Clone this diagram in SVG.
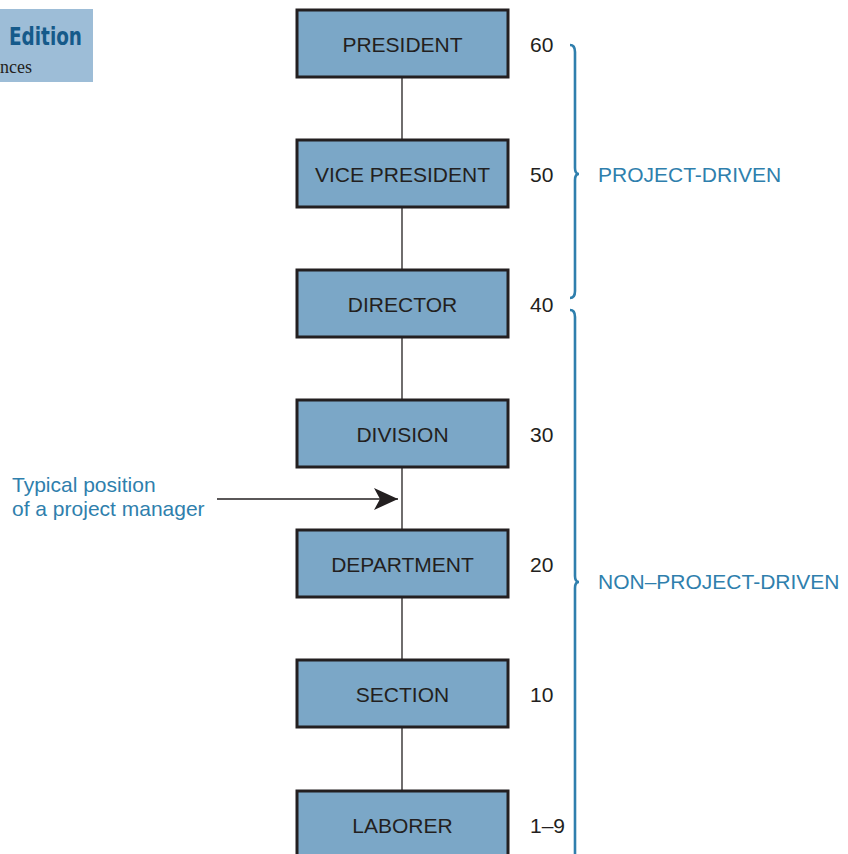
<svg xmlns="http://www.w3.org/2000/svg" width="848" height="854" viewBox="0 0 848 854">
<style>
.box{fill:#7ba7c7;stroke:#231f20;stroke-width:3}
.lbl{font-family:"Liberation Sans",Arial,sans-serif;font-size:21px;fill:#231f20;text-anchor:middle}
.num{font-family:"Liberation Sans",Arial,sans-serif;font-size:21px;fill:#231f20}
.blue{font-family:"Liberation Sans",Arial,sans-serif;font-size:21px;fill:#2f7fad}
.conn{stroke:#231f20;stroke-width:1.3;fill:none}
.brace{stroke:#2f7fad;stroke-width:2.6;fill:none}
</style>
<defs>
<marker id="ah" viewBox="0 0 24 22" refX="24" refY="11" markerWidth="24" markerHeight="22" markerUnits="userSpaceOnUse" orient="auto">
<path d="M0,0 L24,11 L0,22 L6,11 Z" fill="#231f20"/>
</marker>
</defs>
<rect x="0" y="9" width="93" height="73" fill="#9dbdd7"/>
<text x="9" y="45" font-family="'DejaVu Sans Condensed','Liberation Sans',sans-serif" font-weight="bold" font-size="25" fill="#155a8a" textLength="73" lengthAdjust="spacingAndGlyphs">Edition</text>
<text x="0" y="73" font-family="'Liberation Serif',serif" font-size="18" fill="#231f20">nces</text>
<g id="connectors">
<line class="conn" x1="402" y1="77" x2="402" y2="140"/>
<line class="conn" x1="402" y1="207" x2="402" y2="270"/>
<line class="conn" x1="402" y1="337" x2="402" y2="400"/>
<line class="conn" x1="402" y1="467" x2="402" y2="530"/>
<line class="conn" x1="402" y1="597" x2="402" y2="660"/>
<line class="conn" x1="402" y1="727" x2="402" y2="790"/>
<line x1="217" y1="499" x2="398" y2="499" stroke="#231f20" stroke-width="1.6" marker-end="url(#ah)"/>
</g>
<g id="president"><rect class="box" x="297" y="10" width="211" height="67"/><text class="lbl" x="402.5" y="52">PRESIDENT</text><text class="num" x="530" y="52">60</text></g>
<g id="vice-president"><rect class="box" x="297" y="140" width="211" height="67"/><text class="lbl" x="402.5" y="182">VICE PRESIDENT</text><text class="num" x="530" y="182">50</text></g>
<g id="director"><rect class="box" x="297" y="270" width="211" height="67"/><text class="lbl" x="402.5" y="312">DIRECTOR</text><text class="num" x="530" y="312">40</text></g>
<g id="division"><rect class="box" x="297" y="400" width="211" height="67"/><text class="lbl" x="402.5" y="442">DIVISION</text><text class="num" x="530" y="442">30</text></g>
<g id="department"><rect class="box" x="297" y="530" width="211" height="67"/><text class="lbl" x="402.5" y="572">DEPARTMENT</text><text class="num" x="530" y="572">20</text></g>
<g id="section"><rect class="box" x="297" y="660" width="211" height="67"/><text class="lbl" x="402.5" y="702">SECTION</text><text class="num" x="530" y="702">10</text></g>
<g id="laborer"><rect class="box" x="297" y="791" width="211" height="67"/><text class="lbl" x="402.5" y="833">LABORER</text><text class="num" x="530" y="833">1–9</text></g>
<g id="project-manager-note">
<text class="blue" x="12" y="492">Typical position</text>
<text class="blue" x="12" y="516">of a project manager</text>
</g>
<g id="brace-project">
<path class="brace" d="M570,45 Q575,45 575,52 L575,168 Q575,174 579,174 Q575,174 575,180 L575,291 Q575,298 570,298"/>
<text class="blue" x="598" y="182">PROJECT-DRIVEN</text>
</g>
<g id="brace-non-project">
<path class="brace" d="M570,310 Q575,310 575,317 L575,576 Q575,582 579,582 Q575,582 575,588 L575,854"/>
<text class="blue" x="598" y="589">NON–PROJECT-DRIVEN</text>
</g>
</svg>
